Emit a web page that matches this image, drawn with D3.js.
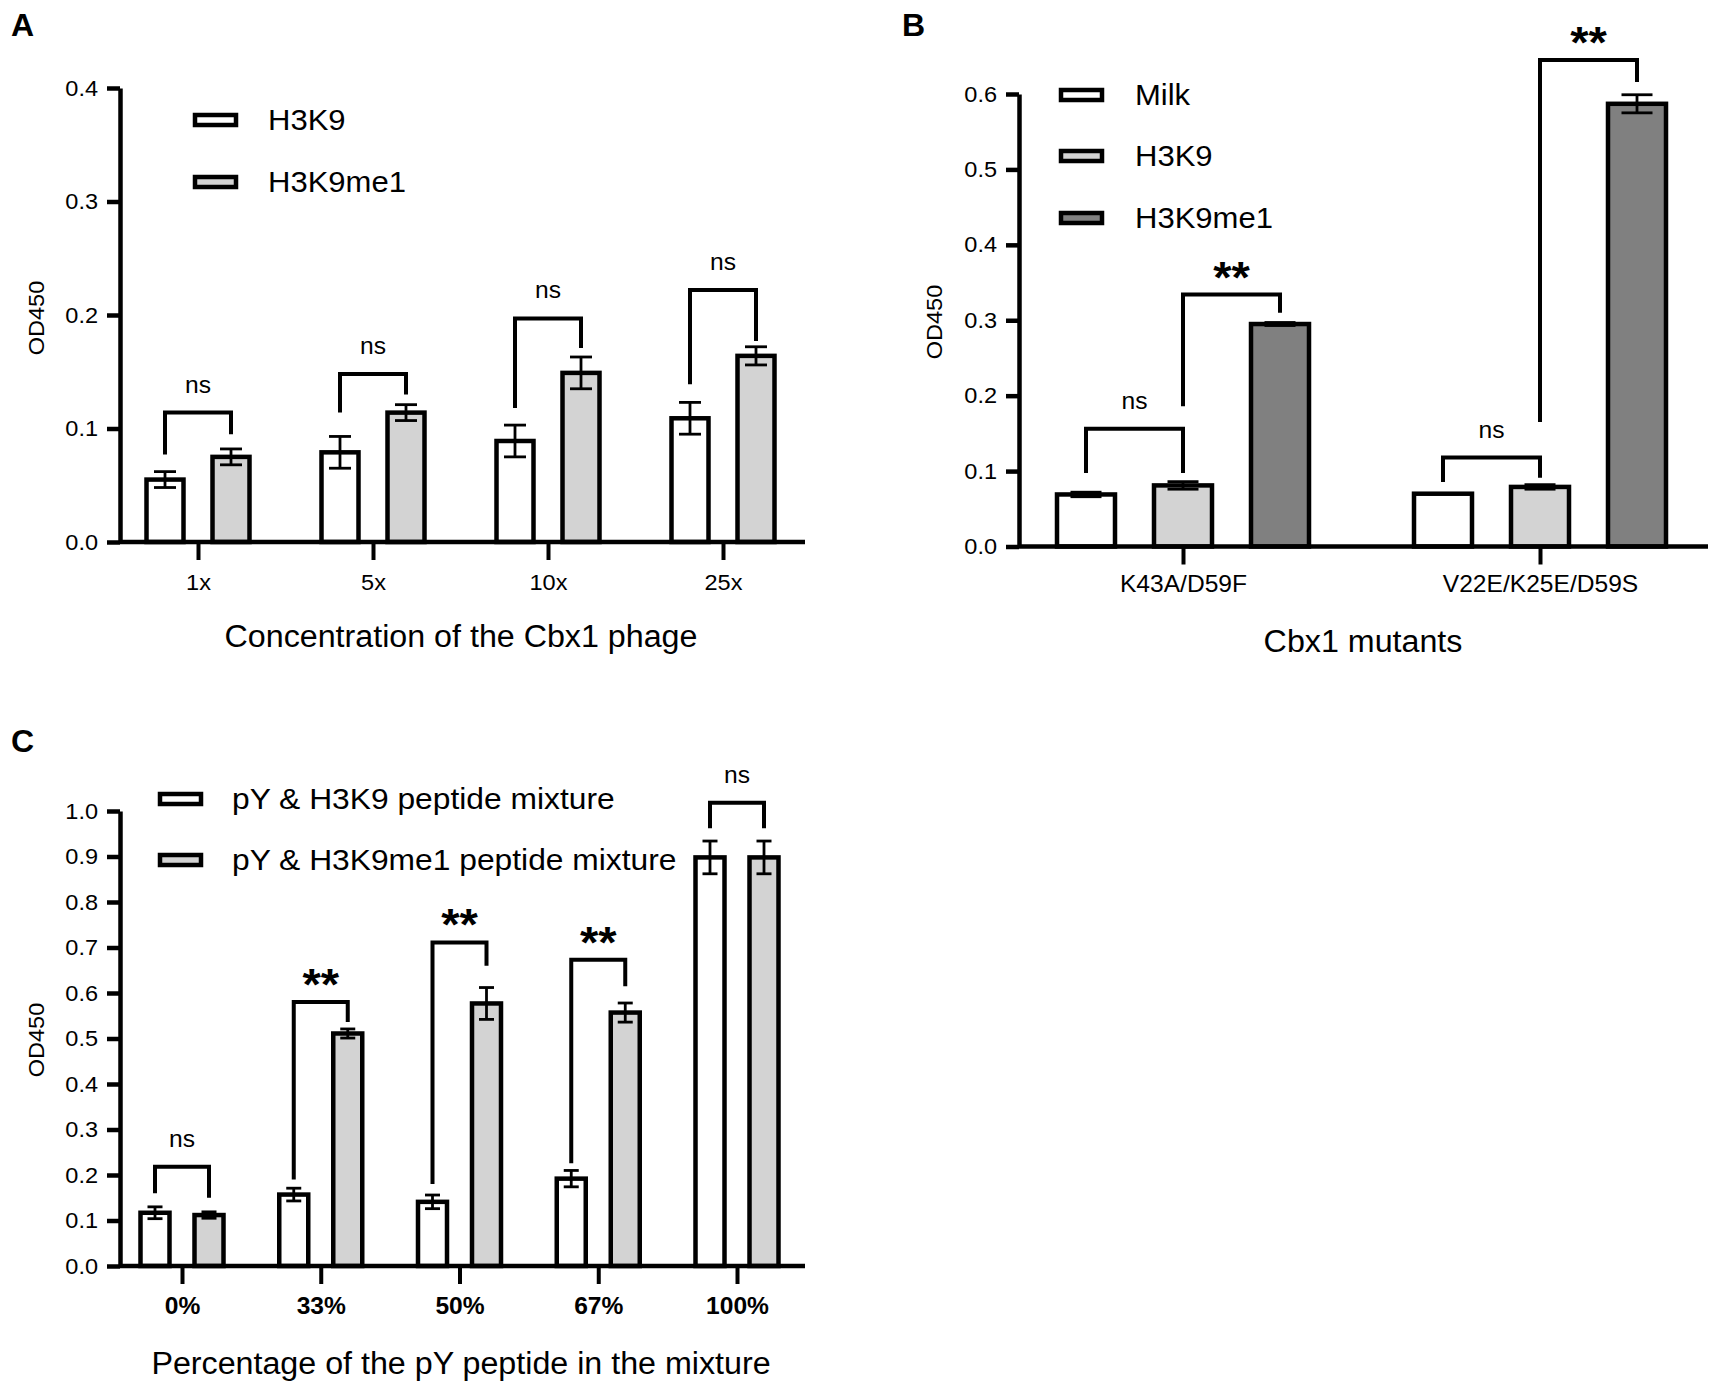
<!DOCTYPE html>
<html>
<head>
<meta charset="utf-8">
<script src="https://cdn.jsdelivr.net/npm/d3@7"></script>
<style>
  body { margin: 0; background: #fff; }
  text { font-family: "Liberation Sans", Arial, sans-serif; fill: #000; }
</style>
</head>
<body>
<div id="chart"></div>
<script>
// ---- Panel A data ----
const catsA = ["1x", "5x", "10x", "25x"];
const seriesA = ["H3K9", "H3K9me1"];
const h3k9A = [0.055, 0.079, 0.089, 0.109];
const h3k9ErrA = [0.007, 0.014, 0.014, 0.014];
const me1A = [0.075, 0.114, 0.149, 0.164];
const me1ErrA = [0.007, 0.007, 0.014, 0.008];
// [category, from series, to series, bracket level, left leg end, right leg end, label]
const bracketsA = [
  ["1x", "H3K9", "H3K9me1", 0.114, 0.077, 0.095, "ns"],
  ["5x", "H3K9", "H3K9me1", 0.148, 0.114, 0.130, "ns"],
  ["10x", "H3K9", "H3K9me1", 0.197, 0.118, 0.171, "ns"],
  ["25x", "H3K9", "H3K9me1", 0.222, 0.139, 0.177, "ns"]
];
const ticksA = [0, 0.1, 0.2, 0.3, 0.4];

// ---- Panel B data ----
const catsB = ["K43A/D59F", "V22E/K25E/D59S"];
const seriesB = ["Milk", "H3K9", "H3K9me1"];
const milkB = [0.069, 0.070];
const milkErrB = [0.003, 0.0];
const h3k9B = [0.081, 0.079];
const h3k9ErrB = [0.005, 0.003];
const me1B = [0.295, 0.587];
const me1ErrB = [0.002, 0.012];
const bracketsB = [
  ["K43A/D59F", "Milk", "H3K9", 0.156, 0.0975, 0.0975, "ns"],
  ["K43A/D59F", "H3K9", "H3K9me1", 0.334, 0.186, 0.310, "**"],
  ["V22E/K25E/D59S", "Milk", "H3K9", 0.118, 0.0855, 0.091, "ns"],
  ["V22E/K25E/D59S", "H3K9", "H3K9me1", 0.645, 0.165, 0.616, "**"]
];
const ticksB = [0, 0.1, 0.2, 0.3, 0.4, 0.5, 0.6];

// ---- Panel C data ----
const catsC = ["0%", "33%", "50%", "67%", "100%"];
const seriesC = ["pY & H3K9 peptide mixture", "pY & H3K9me1 peptide mixture"];
const h3k9C = [0.117, 0.157, 0.141, 0.192, 0.898];
const h3k9ErrC = [0.013, 0.014, 0.015, 0.018, 0.036];
const me1C = [0.112, 0.511, 0.577, 0.557, 0.898];
const me1ErrC = [0.007, 0.010, 0.035, 0.021, 0.036];
const bracketsC = [
  ["0%", seriesC[0], seriesC[1], 0.218, 0.160, 0.150, "ns"],
  ["33%", seriesC[0], seriesC[1], 0.580, 0.190, 0.536, "**"],
  ["50%", seriesC[0], seriesC[1], 0.711, 0.180, 0.660, "**"],
  ["67%", seriesC[0], seriesC[1], 0.673, 0.226, 0.615, "**"],
  ["100%", seriesC[0], seriesC[1], 1.018, 0.962, 0.962, "ns"]
];
const ticksC = [0, 0.1, 0.2, 0.3, 0.4, 0.5, 0.6, 0.7, 0.8, 0.9, 1.0];

// the original figure's lettering is slightly wider than Arial
const STRETCH = 1.07;
const TITLE_STRETCH = 1.04;

const svg = d3.select("#chart")
  .append("svg")
  .attr("width", 1712)
  .attr("height", 1383);

// text placed at (x, y) and widened horizontally
function label(g, x, y, txt, size, k = STRETCH) {
  return g.append("text")
    .attr("transform", `translate(${x},${y}) scale(${k},1)`)
    .attr("font-size", size)
    .text(txt);
}

function drawPanel(opt) {
  const g = svg.append("g");
  const x0 = d3.scalePoint().domain(opt.cats).range(opt.xRange);
  const x1 = d3.scalePoint().domain(opt.series).range([-opt.offset, opt.offset]);
  const y = d3.scaleLinear().domain([0, d3.max(opt.ticks)]).range(opt.yRange);
  const bw = opt.barWidth;

  // Bars and error bars
  opt.series.forEach((s, si) => {
    const rows = opt.cats.map((c, ci) => ({ cat: c, mean: opt.means[si][ci], err: opt.errs[si][ci] }));
    const cx = d => x0(d.cat) + x1(s);

    g.selectAll(null).data(rows).join("rect")
      .attr("x", d => cx(d) - bw / 2)
      .attr("y", d => y(d.mean))
      .attr("width", bw)
      .attr("height", d => y(0) - y(d.mean))
      .attr("fill", opt.colors[si])
      .attr("stroke", "#000")
      .attr("stroke-width", 4.5);

    g.selectAll(null).data(rows).join("line")
      .attr("x1", cx).attr("x2", cx)
      .attr("y1", d => y(d.mean - d.err))
      .attr("y2", d => y(d.mean + d.err))
      .attr("stroke", "#000").attr("stroke-width", 2.8);

    [-1, 1].forEach(sign => {
      g.selectAll(null).data(rows).join("line")
        .attr("x1", d => cx(d) - opt.capWidth / 2)
        .attr("x2", d => cx(d) + opt.capWidth / 2)
        .attr("y1", d => y(d.mean + sign * d.err))
        .attr("y2", d => y(d.mean + sign * d.err))
        .attr("stroke", "#000").attr("stroke-width", 2.8);
    });
  });

  // Significance brackets
  g.selectAll(null).data(opt.brackets).join("path")
    .attr("d", b => {
      const xa = x0(b[0]) + x1(b[1]);
      const xb = x0(b[0]) + x1(b[2]);
      return `M${xa},${y(b[4])}V${y(b[3])}H${xb}V${y(b[5])}`;
    })
    .attr("fill", "none")
    .attr("stroke", "#000")
    .attr("stroke-width", 4);

  opt.brackets.forEach(b => {
    const mx = (x0(b[0]) + x1(b[1]) + x0(b[0]) + x1(b[2])) / 2;
    const star = b[6] === "**";
    label(g, mx, star ? y(b[3]) - 2 : y(b[3]) - 20, b[6], star ? 44 : 23)
      .attr("text-anchor", "middle")
      .attr("font-weight", star ? "bold" : "normal");
  });

  // Y axis
  const yAxis = g.append("g")
    .attr("transform", `translate(${opt.axisX},0)`)
    .call(d3.axisLeft(y).tickValues(opt.ticks).tickFormat(d3.format(".1f"))
      .tickSize(13).tickSizeOuter(0).tickPadding(9));
  yAxis.selectAll("path, line").attr("stroke", "#000").attr("stroke-width", 4.5);
  yAxis.selectAll("text").attr("font-size", 22).attr("fill", "#000")
    .attr("transform", `scale(${STRETCH},1)`)
    .attr("x", -22 / STRETCH)
    .attr("font-family", '"Liberation Sans", Arial, sans-serif');

  // X axis
  g.append("line")
    .attr("x1", opt.axisX).attr("x2", opt.xEnd)
    .attr("y1", y(0)).attr("y2", y(0))
    .attr("stroke", "#000").attr("stroke-width", 4.5);
  const xAxis = g.append("g")
    .attr("transform", `translate(0,${y(0)})`)
    .call(d3.axisBottom(x0).tickSize(18).tickPadding(opt.catPad));
  xAxis.select(".domain").remove();
  xAxis.selectAll("line").attr("stroke", "#000").attr("stroke-width", 4);
  xAxis.selectAll("text").attr("font-size", opt.catSize).attr("fill", "#000")
    .attr("font-weight", opt.catWeight)
    .attr("transform", `scale(${STRETCH},1)`)
    .attr("font-family", '"Liberation Sans", Arial, sans-serif');

  // Axis titles
  g.append("text")
    .attr("transform", `translate(${opt.yTitlePos[0]},${opt.yTitlePos[1]}) rotate(-90) scale(${STRETCH},1)`)
    .attr("text-anchor", "middle").attr("dy", "0.35em")
    .attr("font-size", 22)
    .text("OD450");
  label(g, opt.xTitlePos[0], opt.xTitlePos[1], opt.xTitle, 31, TITLE_STRETCH)
    .attr("text-anchor", "middle").attr("dy", "0.35em");

  // Legend
  opt.series.forEach((s, si) => {
    const ry = opt.legendRows[si];
    g.append("rect")
      .attr("x", opt.legendX).attr("y", ry - 5)
      .attr("width", 41).attr("height", 10)
      .attr("fill", opt.colors[si])
      .attr("stroke", "#000").attr("stroke-width", 4.5);
    label(g, opt.legendTextX, ry, s, opt.legendSize).attr("dy", "0.35em");
  });

  // Panel letter
  g.append("text")
    .attr("x", opt.letterPos[0]).attr("y", opt.letterPos[1])
    .attr("font-size", 32).attr("font-weight", "bold")
    .text(opt.letter);
}

drawPanel({
  letter: "A", letterPos: [11, 36],
  cats: catsA, series: seriesA,
  means: [h3k9A, me1A], errs: [h3k9ErrA, me1ErrA],
  brackets: bracketsA, ticks: ticksA,
  colors: ["#ffffff", "#d3d3d3"],
  xRange: [198, 723], offset: 33, barWidth: 37, capWidth: 22,
  yRange: [542, 88], axisX: 120, xEnd: 805,
  catPad: 14, catSize: 22, catWeight: "normal",
  xTitle: "Concentration of the Cbx1 phage", xTitlePos: [461, 636],
  yTitlePos: [36, 318],
  legendX: 195, legendTextX: 268, legendRows: [120, 182], legendSize: 29
});

drawPanel({
  letter: "B", letterPos: [902, 36],
  cats: catsB, series: seriesB,
  means: [milkB, h3k9B, me1B], errs: [milkErrB, h3k9ErrB, me1ErrB],
  brackets: bracketsB, ticks: ticksB,
  colors: ["#ffffff", "#d3d3d3", "#808080"],
  xRange: [1183, 1540], offset: 97, barWidth: 58, capWidth: 31,
  yRange: [546.5, 94], axisX: 1019, xEnd: 1708,
  catPad: 11, catSize: 23, catWeight: "normal",
  xTitle: "Cbx1 mutants", xTitlePos: [1363, 641],
  yTitlePos: [934, 322],
  legendX: 1061, legendTextX: 1135, legendRows: [95, 156, 218], legendSize: 29
});

drawPanel({
  letter: "C", letterPos: [11, 752],
  cats: catsC, series: seriesC,
  means: [h3k9C, me1C], errs: [h3k9ErrC, me1ErrC],
  brackets: bracketsC, ticks: ticksC,
  colors: ["#ffffff", "#d3d3d3"],
  xRange: [182, 737], offset: 27, barWidth: 29, capWidth: 15,
  yRange: [1266, 811], axisX: 120, xEnd: 805,
  catPad: 14, catSize: 23, catWeight: "bold",
  xTitle: "Percentage of the pY peptide in the mixture", xTitlePos: [461, 1363],
  yTitlePos: [36, 1040],
  legendX: 160, legendTextX: 232, legendRows: [799, 860], legendSize: 29.7
});
</script>
</body>
</html>
